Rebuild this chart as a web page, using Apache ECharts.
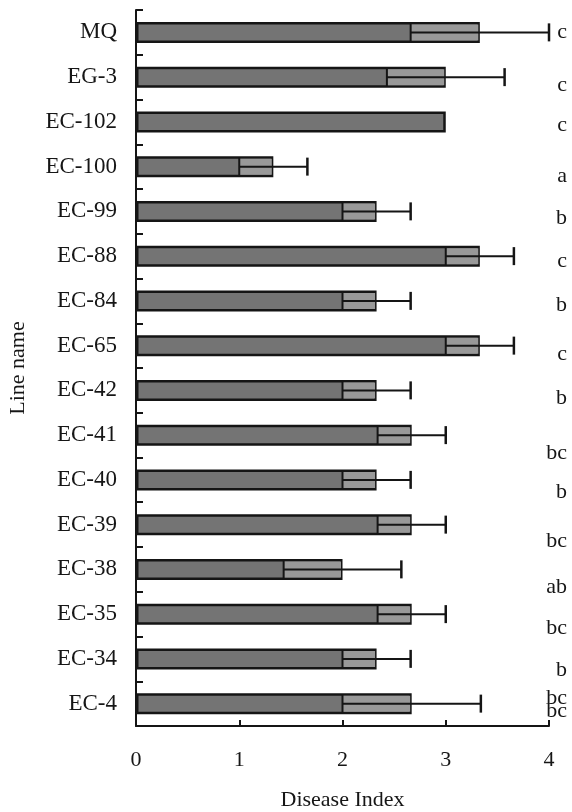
<!DOCTYPE html>
<html>
<head>
<meta charset="utf-8">
<script src="https://cdn.jsdelivr.net/npm/echarts@6/dist/echarts.min.js"></script>
<style>html,body{margin:0;padding:0;background:#fff}#c{width:572px;height:812px}</style>
</head>
<body>
<div id="c"></div>
<script>
// ---- data ----
const lineNames = ['MQ','EG-3','EC-102','EC-100','EC-99','EC-88','EC-84','EC-65','EC-42','EC-41','EC-40','EC-39','EC-38','EC-35','EC-34','EC-4'];
const diseaseIndex = [3.33,3.00,3.00,1.33,2.33,3.33,2.33,3.33,2.33,2.67,2.33,2.67,2.00,2.67,2.33,2.67];
const stdError = [0.67,0.57,0,0.33,0.33,0.33,0.33,0.33,0.33,0.33,0.33,0.33,0.57,0.33,0.33,0.67];
const groupLetters = ['c','c','c','a','b','c','b','c','b','bc','b','bc','ab','bc','b','bc'];
const xTicks = [0,1,2,3,4];
// vertical nudge of letter labels (px), style only
const letterNudge = [0,8,3,10,7,5,4,9,8,18,12,17,18,14,11,-5];

const FONT = 'Liberation Serif';
const INK = '#151515';
const TXT = '#161616';

const errData = lineNames.map((n,i)=>[diseaseIndex[i], i, stdError[i]]);
const letterData = lineNames.map((n,i)=>[xTicks[xTicks.length-1], i]);

function renderErr(params, api){
  const m = api.value(0), i = api.value(1), se = api.value(2);
  if (!se) return null;
  const pl = api.coord([m - se, i]);
  const pm = api.coord([m, i]);
  const ph = api.coord([m + se, i]);
  const y = pm[1];
  const children = [
    {type:'rect', shape:{x:pl[0], y:y-8, width:pm[0]-pl[0]-1.5, height:16}, style:{fill:'#999999'}},
    {type:'line', shape:{x1:pl[0], y1:y, x2:ph[0], y2:y}, style:{stroke:INK, lineWidth:2}},
    {type:'line', shape:{x1:pl[0], y1:y-9, x2:pl[0], y2:y+9}, style:{stroke:INK, lineWidth:2}},
    {type:'line', shape:{x1:ph[0], y1:y-9, x2:ph[0], y2:y+9}, style:{stroke:INK, lineWidth:2.5}}
  ];
  return {type:'group', children};
}

function renderLetter(params, api){
  const i = api.value(1);
  const p = api.coord([api.value(0), i]);
  const txt = groupLetters[i];
  const dy = letterNudge[i];
  const font = '22px "' + FONT + '"';
  const children = [];
  if (i === lineNames.length - 1) {
    children.push({type:'text', x:p[0]+18, y:p[1]+dy+13, style:{text:txt, font, fill:TXT, textAlign:'right', textVerticalAlign:'middle'}});
    children.push({type:'rect', shape:{x:p[0]+2, y:p[1]+dy-10, width:20, height:14}, style:{fill:'#fff'}});
  }
  children.push({type:'text', x:p[0]+18, y:p[1]+dy, style:{text:txt, font, fill:TXT, textAlign:'right', textVerticalAlign:'middle'}});
  return {type:'group', children};
}

const chart = echarts.init(document.getElementById('c'), null, {renderer:'canvas'});
chart.setOption({
  animation:false,
  backgroundColor:'#fff',
  grid:{left:136, top:10, right:23, bottom:86, containLabel:false, outerBoundsMode:'none'},
  xAxis:{
    type:'value', min:0, max:4, interval:1,
    name:'Disease Index', nameLocation:'middle', nameGap:63,
    nameTextStyle:{fontFamily:FONT, fontSize:22, color:TXT},
    axisLine:{show:true, lineStyle:{color:INK, width:2}},
    axisTick:{show:true, inside:true, length:6, lineStyle:{color:INK, width:2}},
    axisLabel:{fontFamily:FONT, fontSize:22, color:TXT, margin:23},
    splitLine:{show:false}
  },
  yAxis:{
    type:'category', data:lineNames, inverse:true,
    name:'Line name', nameLocation:'middle', nameGap:107, nameRotate:90,
    nameTextStyle:{fontFamily:FONT, fontSize:22, color:TXT},
    axisLine:{show:true, lineStyle:{color:INK, width:2}},
    axisTick:{show:true, inside:true, length:7, lineStyle:{color:INK, width:2}},
    axisLabel:{fontFamily:FONT, fontSize:23, color:TXT, margin:19}
  },
  series:[
    {type:'bar', data:diseaseIndex, barWidth:21,
     itemStyle:{color:'#747474', borderColor:INK, borderWidth:2.5}},
    {type:'custom', data:errData, encode:{x:0, y:1}, renderItem:renderErr, z:3},
    {type:'custom', data:letterData, encode:{x:0, y:1}, renderItem:renderLetter, z:4, clip:false}
  ]
});
</script>
</body>
</html>
